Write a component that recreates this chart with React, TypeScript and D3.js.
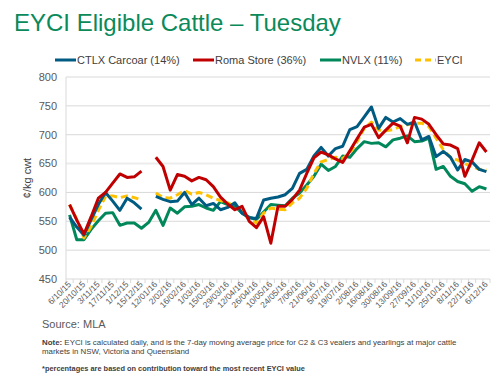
import React from "react";
import * as d3 from "d3";

const categories = [
  "6/10/15","13/10/15","20/10/15","27/10/15","3/11/15","10/11/15","17/11/15","24/11/15","1/12/15","8/12/15",
  "15/12/15","5/01/16","12/01/16","19/01/16","2/02/16","9/02/16","16/02/16","23/02/16","1/03/16","8/03/16",
  "15/03/16","22/03/16","29/03/16","5/04/16","12/04/16","19/04/16","26/04/16","3/05/16","10/05/16","17/05/16",
  "24/05/16","31/05/16","7/06/16","14/06/16","21/06/16","28/06/16","5/07/16","12/07/16","19/07/16","26/07/16",
  "2/08/16","9/08/16","16/08/16","23/08/16","30/08/16","6/09/16","13/09/16","20/09/16","27/09/16","4/10/16",
  "11/10/16","18/10/16","25/10/16","1/11/16","8/11/16","15/11/16","22/11/16","29/11/16","6/12/16",
];

type V = number | null;

const ctlx: V[] = [
  557,540,526,553,579,600,585,569,590,582,
  571,null,593,588,584,585,600,579,590,577,
  581,570,574,582,564,556,555,587,590,592,
  596,607,633,640,663,678,663,676,680,709,
  714,731,748,711,730,722,728,718,722,691,
  697,662,671,661,639,657,653,640,636,
];

const roma: V[] = [
  579,552,528,558,590,600,616,632,626,627,
  637,null,661,645,604,631,628,620,626,622,
  610,592,580,570,576,550,539,558,512,576,
  576,588,604,633,660,670,665,658,652,672,
  693,713,718,695,708,720,715,686,730,727,
  718,700,684,682,676,628,656,686,670,
];

const nvlx: V[] = [
  561,518,518,536,551,564,565,543,547,547,
  538,548,569,543,573,564,575,576,579,573,
  569,584,579,576,564,557,553,566,579,578,
  577,590,599,613,628,649,638,645,663,661,
  676,688,685,686,679,691,694,698,688,689,
  694,640,645,628,619,615,602,610,606,
];

const eyci: V[] = [
  579,553,521,541,569,593,594,591,594,591,
  587,null,599,591,590,596,603,597,600,596,
  590,586,582,576,567,553,547,564,573,571,
  570,582,590,607,633,653,657,661,659,668,
  688,711,722,708,707,709,714,717,720,720,
  714,694,674,661,656,650,645,640,639,
];

const yTicks = [450, 500, 550, 600, 650, 700, 750, 800];

const seriesNames = ["CTLX Carcoar (14%)", "Roma Store (36%)", "NVLX (11%)", "EYCI"];

const FONT = "'Liberation Sans', Arial, sans-serif";

export default function App() {
  const left = 66, right = 490, top = 77, bottom = 279;
  const x = d3.scalePoint<number>().domain(categories.map((_, i) => i)).range([left, right]).padding(0.5);
  const y = d3.scaleLinear().domain([450, 800]).range([bottom, top]);
  const step = x.step();

  const line = d3.line<V>()
    .defined((d) => d != null)
    .x((_, i) => x(i) as number)
    .y((d) => y(d as number));

  const series = [
    { name: seriesNames[0], data: ctlx, color: "#005b82", dash: undefined as string | undefined },
    { name: seriesNames[1], data: roma, color: "#c00000", dash: undefined },
    { name: seriesNames[2], data: nvlx, color: "#00875a", dash: undefined },
    { name: seriesNames[3], data: eyci, color: "#ffc000", dash: "7,4" },
  ];
  const drawOrder = [2, 3, 0, 1];

  const legendX = [55, 193, 320, 415];

  return (
    <svg width={500} height={377} style={{ position: "absolute", left: 0, top: 0, background: "#fff" }} fontFamily={FONT}>
      <text x={14} y={31} fontSize={24} fill="#0a8a5a">EYCI Eligible Cattle – Tuesday</text>

      {series.map((s, k) => (
        <g key={s.name}>
          <line x1={legendX[k]} x2={legendX[k] + 21} y1={60} y2={60} stroke={s.color} strokeWidth={3}
            strokeDasharray={s.dash ? "6,4" : undefined} />
          <text x={legendX[k] + 22} y={60} dy="0.35em" fontSize={11} fill="#404040">{s.name}</text>
        </g>
      ))}

      {yTicks.map((t) => (
        <g key={t}>
          {t > 450 && (
            <line x1={left} x2={right} y1={y(t)} y2={y(t)}
              stroke={t === 650 ? "#ececec" : "#d9d9d9"} strokeWidth={t === 650 ? 2 : 1} />
          )}
          <text x={57} y={y(t)} dy="0.35em" textAnchor="end" fontSize={11} fill="#595959">{t}</text>
        </g>
      ))}

      <line x1={left} x2={left} y1={top} y2={bottom} stroke="#d9d9d9" />
      <line x1={left} x2={right} y1={bottom} y2={bottom} stroke="#d9d9d9" />
      {d3.range(categories.length + 1).map((k) => (
        <line key={k} x1={left + k * step} x2={left + k * step} y1={bottom} y2={bottom + 4} stroke="#d9d9d9" />
      ))}

      {categories.map((c, i) =>
        i % 2 === 0 ? (
          <text key={c} transform={`translate(${(x(i) as number) + 2},${bottom + 6}) rotate(-45)`}
            textAnchor="end" fontSize={8.5} fill="#595959">{c}</text>
        ) : null
      )}

      <text transform={`translate(31,${(top + bottom) / 2}) rotate(-90)`} textAnchor="middle" fontSize={11} fill="#404040">¢/kg cwt</text>

      {drawOrder.map((k) => {
        const s = series[k];
        return (
          <path key={s.name} d={line(s.data) || ""} fill="none" stroke={s.color} strokeWidth={3}
            strokeDasharray={s.dash} strokeLinejoin="round" />
        );
      })}

      <text x={42} y={328} fontSize={11} fill="#595959">Source: MLA</text>
      <text x={42} y={344.5} fontSize={7.9} fill="#404040">
        <tspan fontWeight="bold">Note:</tspan> EYCI is calculated daily, and is the 7-day moving average price for C2 &amp; C3 vealers and yearlings at major cattle
      </text>
      <text x={42} y={353.5} fontSize={7.9} fill="#404040">markets in NSW, Victoria and Queensland</text>
      <text x={42} y={371} fontSize={7.4} fontWeight="bold" fill="#404040">*percentages are based on contribution toward the most recent EYCI value</text>
    </svg>
  );
}
